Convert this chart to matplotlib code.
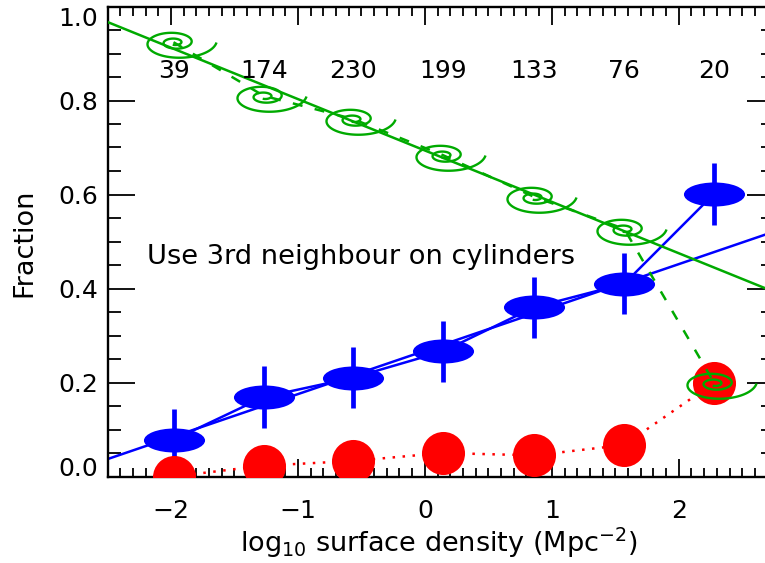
import numpy as np
from matplotlib import pyplot as plt
from matplotlib.path import Path
from matplotlib.transforms import Affine2D

# values
logdens = [-1.98, -1.27, -0.57, 0.14, 0.86, 1.57, 2.28]
counts = ["39", "174", "230", "199", "133", "76", "20"]
blue_frac = [0.078, 0.169, 0.21, 0.266, 0.36, 0.41, 0.602]
blue_err = [0.065, 0.066, 0.065, 0.065, 0.065, 0.065, 0.066]
red_frac = [0.0, 0.023, 0.033, 0.05, 0.045, 0.067, 0.2]
green_frac = [0.924, 0.81, 0.761, 0.684, 0.595, 0.527, 0.199]

# straight line fits, end points
fit_x = [-2.5, 2.75]
blue_fit = [0.037, 0.521]
green_fit = [0.967, 0.393]

BLUE = "#0000ff"
RED = "#ff0000"
GREEN = "#00aa00"


# squashed spiral used as marker for the green points
def spiral_marker():
    phi = np.linspace(0, np.radians(830), 300)
    r = 42 * np.exp(-phi * np.log(42 / 17) / (2 * np.pi))
    # outer end of the arm is on the right, winding goes clockwise inwards
    x = r * np.cos(-phi)
    y = 0.45 * r * np.sin(-phi)
    return Path(np.column_stack([x, y]))


fig = plt.figure(figsize=(7.65, 5.63), dpi=100)
# right hand axis falls off the edge of the picture like in the original
ax = fig.add_axes([107.5 / 765, 86.5 / 563, 666.5 / 765, 470 / 563])

ellipse = Path.unit_circle().transformed(Affine2D().scale(1, 24 / 61))

ax.plot(fit_x, blue_fit, color=BLUE, lw=1.8, zorder=2)
ax.plot(logdens, blue_frac, color=BLUE, lw=1.8, zorder=2)
ax.errorbar(logdens, blue_frac, yerr=blue_err, fmt="none", ecolor=BLUE, elinewidth=3.4, zorder=3)
ax.plot(logdens, blue_frac, ls="none", marker=ellipse, ms=44, mfc=BLUE, mec=BLUE, mew=0, zorder=3)

ax.plot(logdens, red_frac, color=RED, lw=1.8, ls=(0, (1, 3)), zorder=3)
ax.plot(logdens, red_frac, ls="none", marker="o", ms=31, mfc=RED, mec=RED, mew=0, zorder=4)

ax.plot(fit_x, green_fit, color=GREEN, lw=1.8, zorder=5)
ax.plot(logdens, green_frac, color=GREEN, lw=1.8, ls=(0, (4, 5)), zorder=5)
ax.plot(logdens, green_frac, ls="none", marker=spiral_marker(), ms=60.5, mfc="none", mec=GREEN, mew=1.7, zorder=6)

for x, c in zip(logdens, counts):
    ax.text(x, 0.863, c, fontsize=18, ha="center", va="center", color="black", zorder=7)
ax.text(-2.19, 0.467, "Use 3rd neighbour on cylinders", fontsize=19.6, ha="left", va="center")

ax.set_xlim(-2.5, 2.75)
ax.set_ylim(0, 1)
ax.set_xticks([-2, -1, 0, 1, 2])
ax.set_xticklabels(["\u22122", "\u22121", "0", "1", "2"])
ax.set_xticks(np.arange(-2.5, 2.76, 0.1), minor=True)
ax.set_yticks([0, 0.2, 0.4, 0.6, 0.8, 1.0])
ax.set_yticklabels(["0.0", "0.2", "0.4", "0.6", "0.8", "1.0"])
ax.set_yticks(np.arange(0, 1.01, 0.05), minor=True)

ax.tick_params(axis="x", which="major", direction="in", top=True, length=13, width=1.3, labelsize=18, pad=16)
ax.tick_params(axis="x", which="minor", direction="in", top=True, length=6.5, width=1.3)
ax.tick_params(axis="y", which="major", direction="in", right=True, length=19.5, width=1.3, labelsize=18, pad=7)
ax.tick_params(axis="y", which="minor", direction="in", right=True, length=9.5, width=1.3)
for spine in ax.spines.values():
    spine.set_linewidth(1.7)

# first and last y labels are kept inside the axis range, the rest sit a bit low
ylabels = ax.get_yticklabels()
for lab in ylabels:
    lab.set_va("center_baseline")
ylabels[0].set_va("baseline")
ylabels[-1].set_va("top")

fig.text(439 / 765, 1 - 543 / 563, r"log$_{10}$ surface density (Mpc$^{-2}$)", fontsize=19.5, ha="center", va="center")
fig.text(24 / 765, 1 - 243 / 563, "Fraction", fontsize=19.5, rotation=90, ha="center", va="center")

fig.savefig("out.png", dpi=100)
